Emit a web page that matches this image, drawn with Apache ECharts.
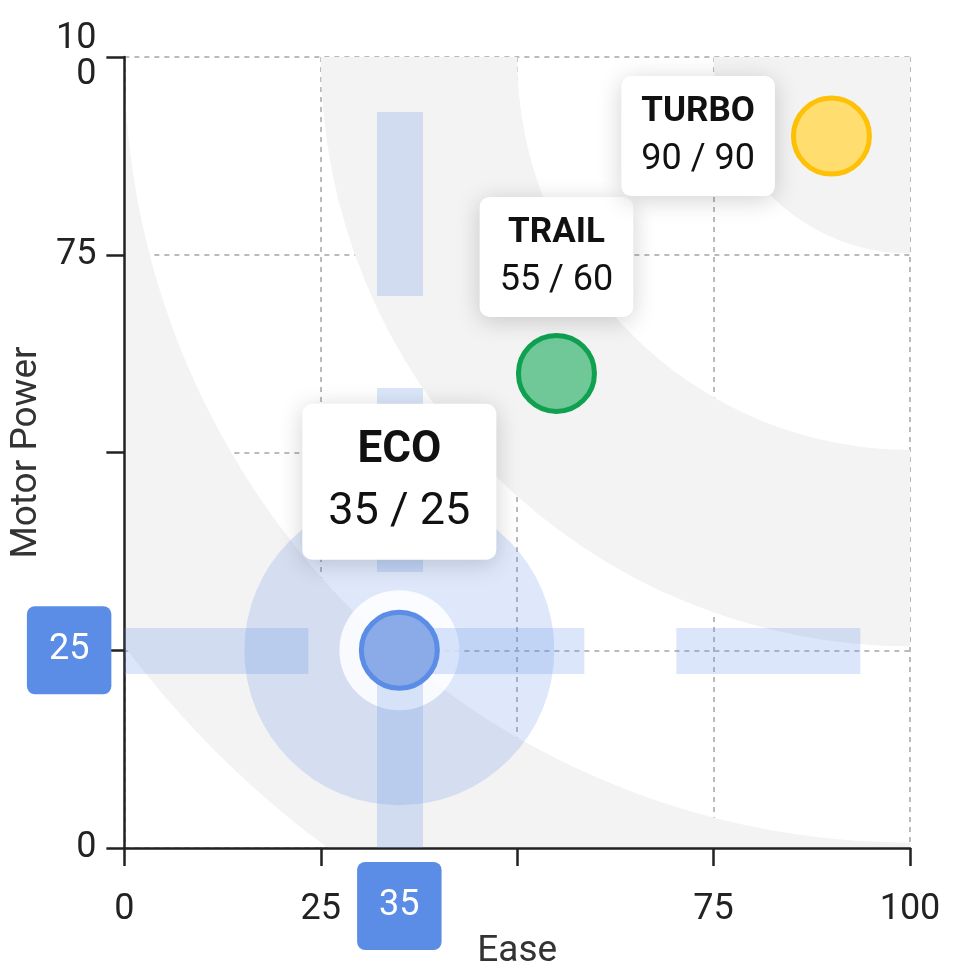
<!DOCTYPE html>
<html>
<head>
<meta charset="utf-8">
<script src="https://cdn.jsdelivr.net/npm/echarts@6/dist/echarts.min.js"></script>
<style>html,body{margin:0;padding:0;background:#fff}#main{width:958px;height:977px}</style>
</head>
<body>
<div id="main"></div>
<script>
// data
var modes = ['ECO', 'TRAIL', 'TURBO'];
var ease = [35, 55, 90];
var power = [25, 60, 90];
var fills = ['#8aaae8', '#70c898', '#ffdd6e'];
var borders = ['#5b8de6', '#0fa050', '#ffc107'];
// gray rings around the top-right corner, in data units
var ringBands = [[0, 25], [50, 75], [100, 125]];
var ringCenter = [100, 100];
var focusIndex = 0;

var font = 'Roboto';
var myChart = echarts.init(document.getElementById('main'));

var labelPos = ['top', 'top', 'left'];
var points = modes.map(function (m, i) {
    var big = i === focusIndex;
    return {
        name: m,
        value: [ease[i], power[i]],
        itemStyle: { color: fills[i], borderColor: borders[i], borderWidth: 5, opacity: 1 },
        label: {
            show: true,
            position: labelPos[i],
            distance: big ? 50 : 16,
            formatter: '{b|' + m + '}\n{v|' + ease[i] + ' / ' + power[i] + '}',
            backgroundColor: '#fff',
            borderRadius: 10,
            padding: big ? [16, 26, 16, 26] : [12, 20, 12, 20],
            shadowBlur: 24,
            shadowColor: 'rgba(0,0,0,0.18)',
            shadowOffsetY: 4,
            rich: {
                b: { fontFamily: font, fontWeight: 'bold', fontSize: big ? 44 : 35, lineHeight: big ? 62 : 48, color: '#111', align: 'center' },
                v: { fontFamily: font, fontSize: big ? 45 : 36, lineHeight: big ? 62 : 48, color: '#111', align: 'center' }
            }
        }
    };
});

function axisCommon() {
    return {
        type: 'value', min: 0, max: 100, interval: 25,
        nameLocation: 'middle',
        nameTextStyle: { fontFamily: font, fontSize: 37, color: '#333' },
        axisLine: { show: true, lineStyle: { color: '#222', width: 2.5 } },
        axisTick: { show: true, length: 18, lineStyle: { color: '#222', width: 2.5 } },
        splitLine: { show: true, lineStyle: { color: '#bbb', type: [5, 5], width: 2 } },
        axisLabel: { fontFamily: font, fontSize: 36, color: '#222' }
    };
}

function pointerLabel(margin) {
    return {
        show: true, fontFamily: font, fontSize: 36, color: '#fff', backgroundColor: '#5b8de6',
        borderRadius: 8, padding: [26, 22], margin: margin,
        formatter: function (p) { return Math.round(p.value); }
    };
}

var xAxis = axisCommon();
xAxis.name = 'Ease';
xAxis.nameGap = 42;
xAxis.axisLabel.margin = 44;
xAxis.axisLabel.formatter = function (v) { return v === 50 ? '' : v; };
xAxis.axisPointer = {
    show: true, status: 'show', value: ease[focusIndex], type: 'line', triggerTooltip: false, animation: false,
    lineStyle: { color: 'rgba(91,141,230,0.22)', width: 46 },
    label: pointerLabel(14)
};

var yAxis = axisCommon();
yAxis.name = 'Motor Power';
yAxis.nameGap = 30;
yAxis.axisLabel.margin = 28;
yAxis.axisLabel.formatter = function (v) { return v === 50 ? '' : (v === 100 ? '10\n0' : v); };
yAxis.axisPointer = {
    show: true, status: 'show', value: power[focusIndex], type: 'line', triggerTooltip: false, animation: false,
    lineStyle: { color: 'rgba(91,141,230,0.22)', width: 46 },
    label: pointerLabel(13)
};

myChart.setOption({
    animation: false,
    axisPointer: { animation: false },
    grid: { left: 118, right: 48, top: 57, bottom: 129 },
    xAxis: xAxis,
    yAxis: yAxis,
    series: [{
        type: 'custom',
        clip: true,
        silent: true,
        animation: false,
        z: 0,
        data: ringBands,
        renderItem: function (params, api) {
            var c = api.coord(ringCenter);
            var r0 = api.size([api.value(0), 0])[0];
            var r1 = api.size([api.value(1), 0])[0];
            return {
                type: 'sector',
                shape: { cx: c[0], cy: c[1], r0: r0, r: r1, startAngle: Math.PI / 2, endAngle: Math.PI },
                style: { fill: '#f3f3f3' }
            };
        }
    }, {
        type: 'scatter', silent: true, z: 1, animation: false,
        symbolSize: 310,
        itemStyle: { color: 'rgba(91,141,230,0.2)', opacity: 1 },
        data: [[ease[focusIndex], power[focusIndex]]]
    }, {
        type: 'scatter', silent: true, z: 1, animation: false,
        symbolSize: 120,
        itemStyle: { color: 'rgba(255,255,255,0.85)', opacity: 1 },
        data: [[ease[focusIndex], power[focusIndex]]]
    }, {
        type: 'scatter', z: 60, animation: false,
        symbolSize: 76,
        data: points
    }]
});
</script>
</body>
</html>
